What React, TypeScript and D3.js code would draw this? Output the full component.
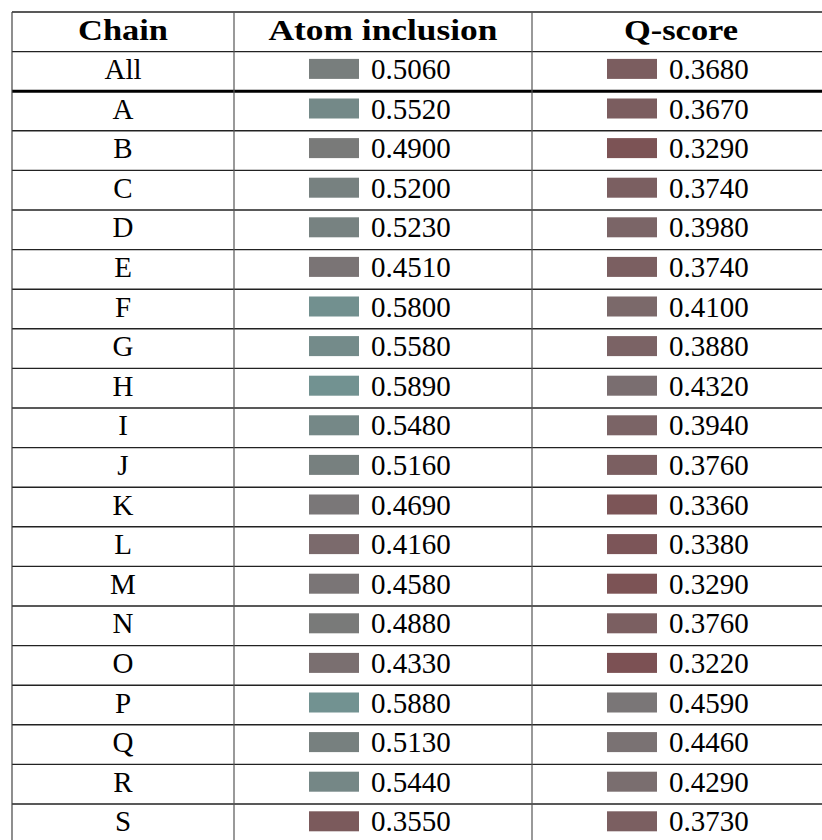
import { useEffect, useRef } from "react";
import * as d3 from "d3";

// table data
const chains = ["A", "B", "C", "D", "E", "F", "G", "H", "I", "J", "K", "L", "M", "N", "O", "P", "Q", "R", "S"];
const atomInclusion = [0.552, 0.49, 0.52, 0.523, 0.451, 0.58, 0.558, 0.589, 0.548, 0.516, 0.469, 0.416, 0.458, 0.488, 0.433, 0.588, 0.513, 0.544, 0.355];
const qScore = [0.367, 0.329, 0.374, 0.398, 0.374, 0.41, 0.388, 0.432, 0.394, 0.376, 0.336, 0.338, 0.329, 0.376, 0.322, 0.459, 0.446, 0.429, 0.373];
const allAtom = 0.506;
const allQ = 0.368;
const headers = ["Chain", "Atom inclusion", "Q-score"];

export default function App() {
	const svgRef = useRef<SVGSVGElement>(null);

	useEffect(() => {
		if (!svgRef.current) return;
		const width = 822;
		const height = 840;
		const svg = d3.select(svgRef.current);
		svg.selectAll("*").remove();

		const font = "'Liberation Serif', 'Times New Roman', serif";
		const colEdges = [12, 234, 532, 830];
		const colMid = (i: number) => (colEdges[i] + colEdges[i + 1]) / 2;
		// header widths, roughly what the bold LaTeX font gives
		const headerWidths = [90, 229, 114];

		const rows = [
			{ key: "__header", label: "", atom: NaN, q: NaN },
			{ key: "All", label: "All", atom: allAtom, q: allQ },
			...chains.map((c, i) => ({ key: c, label: c, atom: atomInclusion[i], q: qScore[i] })),
		];

		const y = d3
			.scaleBand()
			.domain(rows.map((r) => r.key))
			.range([12, 12 + rows.length * 39.6])
			.paddingInner(0)
			.paddingOuter(0);

		// reddish (low) -> grey -> teal (high)
		const color = d3
			.scaleLinear<string>()
			.domain([0.3, 0.46, 0.49, 0.6])
			.range(["#7c4b4e", "#7a7677", "#797a79", "#719594"])
			.clamp(true);

		const g = svg.append("g");

		// header
		headers.forEach((h, i) => {
			g.append("text")
				.attr("x", colMid(i))
				.attr("y", (y("__header") as number) + y.bandwidth() / 2 + 8)
				.attr("text-anchor", "middle")
				.attr("font-family", font)
				.attr("font-weight", "bold")
				.attr("font-size", 29)
				.attr("textLength", headerWidths[i])
				.attr("lengthAdjust", "spacingAndGlyphs")
				.attr("fill", "#000")
				.text(h);
		});

		const body = rows.slice(1);
		const row = g
			.selectAll("g.row")
			.data(body)
			.join("g")
			.attr("class", "row")
			.attr("transform", (d) => `translate(0,${(y(d.key) as number) + y.bandwidth() / 2})`);

		row.append("text")
			.attr("x", colMid(0))
			.attr("y", 7.5)
			.attr("text-anchor", "middle")
			.attr("font-family", font)
			.attr("font-size", 29)
			.text((d) => d.label);

		const cells: ["atom" | "q", number][] = [
			["atom", 1],
			["q", 2],
		];
		cells.forEach(([k, ci]) => {
			const cx = colMid(ci);
			row.append("rect")
				.attr("x", cx - 74)
				.attr("y", -12.5)
				.attr("width", 50)
				.attr("height", 20)
				.attr("fill", (d) => color(d[k]));
			row.append("text")
				.attr("x", cx - 12)
				.attr("y", 7.5)
				.attr("font-family", font)
				.attr("font-size", 29)
				.text((d) => d[k].toFixed(4));
		});

		// rules
		const top = y.range()[0];
		const bottom = y.range()[1];
		const lines = g.append("g");
		rows.forEach((r, i) => {
			const yy = y(r.key) as number;
			lines
				.append("line")
				.attr("x1", colEdges[0])
				.attr("x2", colEdges[3])
				.attr("y1", yy)
				.attr("y2", yy)
				.attr("stroke", i === 2 ? "#000" : "#222")
				.attr("stroke-width", i === 2 ? 3 : 1.4);
		});
		lines
			.append("line")
			.attr("x1", colEdges[0])
			.attr("x2", colEdges[3])
			.attr("y1", bottom)
			.attr("y2", bottom)
			.attr("stroke", "#222")
			.attr("stroke-width", 1.4);
		colEdges.forEach((x, i) => {
			lines
				.append("line")
				.attr("x1", x)
				.attr("x2", x)
				.attr("y1", top)
				.attr("y2", bottom)
				.attr("stroke", i === 0 ? "#444" : "#555")
				.attr("stroke-width", 1.2);
		});

		svg.attr("width", width).attr("height", height);
	}, []);

	return (
		<svg
			ref={svgRef}
			width={822}
			height={840}
			style={{ position: "absolute", left: 0, top: 0, background: "#fff" }}
		/>
	);
}
